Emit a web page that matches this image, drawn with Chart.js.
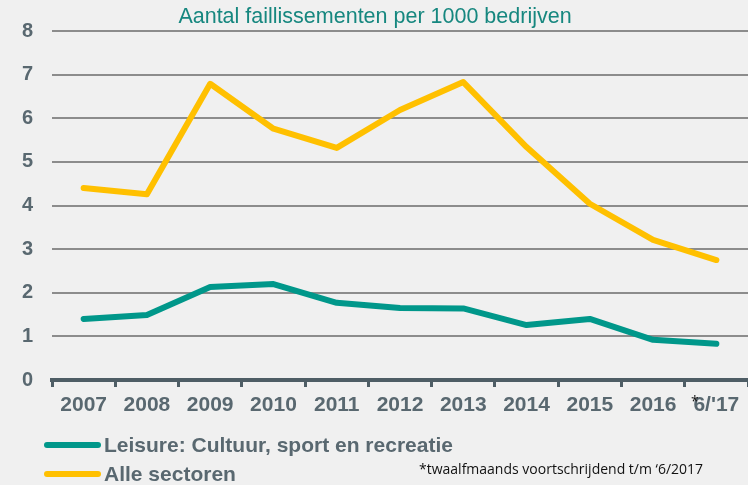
<!DOCTYPE html>
<html>
<head>
<meta charset="utf-8">
<script src="https://cdn.jsdelivr.net/npm/chart.js@4"></script>
<style>
  body { margin: 0; background: #f0f0f0; }
  #wrap { width: 748px; height: 485px; }
</style>
</head>
<body>
<div id="wrap"><canvas id="line-graph" width="748" height="485"></canvas></div>
<script>
const years = ['2007', '2008', '2009', '2010', '2011', '2012', '2013', '2014', '2015', '2016', "6/'17"]
const leisure = [1.40, 1.49, 2.13, 2.20, 1.77, 1.65, 1.64, 1.26, 1.40, 0.92, 0.83]
const alleSectoren = [4.40, 4.26, 6.79, 5.76, 5.32, 6.19, 6.83, 5.34, 4.04, 3.21, 2.75]
const yTicks = [0, 1, 2, 3, 4, 5, 6, 7, 8]

const title = 'Aantal faillissementen per 1000 bedrijven'
const footnote = '*twaalfmaands voortschrijdend t/m \u20186/2017'

const slate = '#596870'
const font = '"Liberation Sans", Arial, sans-serif'

// titel, legenda en voetnoot zelf tekenen
const extras = {
  id: 'extras',
  afterDraw(chart) {
    const c = chart.ctx
    c.save()
    c.fillStyle = '#16877f'
    c.font = '21.5px ' + font
    c.textAlign = 'center'
    c.textBaseline = 'alphabetic'
    c.fillText(title, 375, 23)

    c.textAlign = 'left'
    c.textBaseline = 'middle'
    c.font = 'bold 21px ' + font
    chart.data.datasets.forEach((ds, i) => {
      const y = 445 + i * 29
      c.strokeStyle = ds.borderColor
      c.lineWidth = 6
      c.lineCap = 'round'
      c.beginPath()
      c.moveTo(47, y)
      c.lineTo(98, y)
      c.stroke()
      c.fillStyle = slate
      c.fillText(ds.label, 104, y + 1)
    })

    c.fillStyle = '#111'
    c.textBaseline = 'alphabetic'
    c.font = '14px "Open Sans", sans-serif'
    c.fillText(footnote, 419, 474)
    c.fillText('*', 691, 406)
    c.restore()
  }
}

const ctx = document.getElementById('line-graph').getContext('2d')

const lineGraph = new Chart(ctx, {
  type: 'line',
  data: {
    labels: years,
    datasets: [{
      label: 'Leisure: Cultuur, sport en recreatie',
      data: leisure,
      borderColor: '#00978a',
      borderWidth: 6,
      pointRadius: 0,
      borderJoinStyle: 'round',
      borderCapStyle: 'round'
    }, {
      label: 'Alle sectoren',
      data: alleSectoren,
      borderColor: '#ffc000',
      borderWidth: 6,
      pointRadius: 0,
      borderJoinStyle: 'round',
      borderCapStyle: 'round'
    }]
  },
  options: {
    responsive: false,
    animation: false,
    layout: { padding: { top: 31, right: 0, bottom: 65, left: 0 } },
    plugins: {
      legend: { display: false },
      title: { display: false },
      tooltip: { enabled: false }
    },
    scales: {
      x: {
        offset: true,
        grid: {
          offset: true,
          drawOnChartArea: false,
          drawTicks: true,
          tickLength: 7,
          color: '#4e5d65',
          lineWidth: 3
        },
        border: { color: '#4e5d65', width: 4 },
        ticks: {
          color: slate,
          font: { family: font, size: 21, weight: 'bold' },
          maxRotation: 0,
          autoSkip: false,
          padding: 6
        },
        afterFit: (scale) => { scale.height = 40 }
      },
      y: {
        min: yTicks[0],
        max: yTicks[yTicks.length - 1],
        afterBuildTicks: (scale) => { scale.ticks = yTicks.map(v => ({ value: v })) },
        grid: {
          drawTicks: false,
          color: (c) => c.tick.value === 0 ? 'rgba(0,0,0,0)' : '#8c8c8c',
          lineWidth: 2
        },
        border: { display: false },
        ticks: {
          color: slate,
          font: { family: font, size: 20, weight: 'bold' },
          padding: 19
        },
        afterFit: (scale) => { scale.width = 52 }
      }
    }
  },
  plugins: [extras]
})
</script>
</body>
</html>
